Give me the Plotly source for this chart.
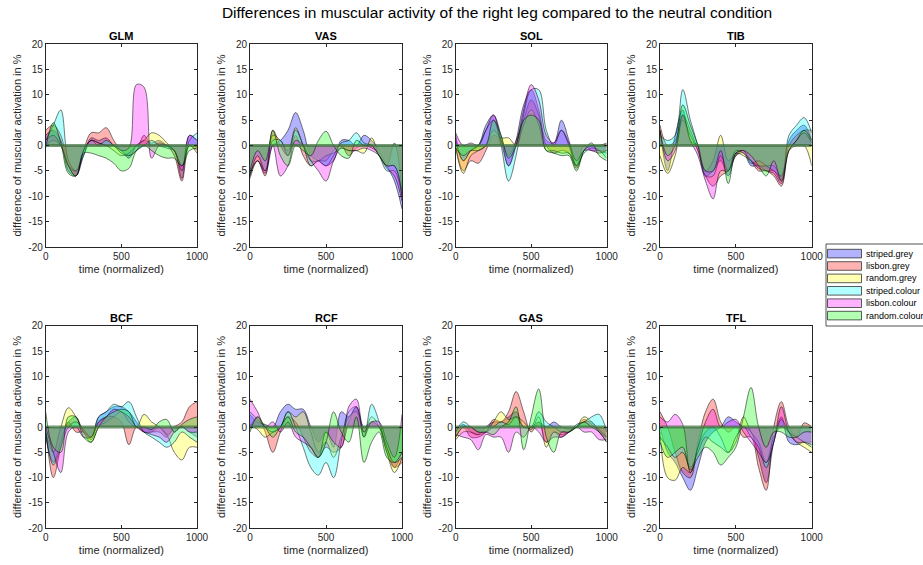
import plotly.graph_objects as go

x = list(range(0, 1001, 50))
series_names = ["striped.grey", "lisbon.grey", "random.grey", "striped.colour", "lisbon.colour", "random.colour"]
series_colors = ["rgba(0,0,255,0.3)", "rgba(255,0,0,0.3)", "rgba(255,255,0,0.3)",
                 "rgba(0,255,255,0.3)", "rgba(255,0,255,0.3)", "rgba(0,255,0,0.3)"]
muscles = ["GLM", "VAS", "SOL", "TIB", "BCF", "RCF", "GAS", "TFL"]

GLM = [
    [2, 3, 1, -5, -6, -2, 1.5, 1, 1.5, 0, -1, -2.5, 0, 1, 0.5, 1, 0, -1, -6.5, 2, 1],
    [3, 4, 2, -4, -6, -1, 2.5, 2.5, 3.5, 1, -1, -2, -1, 2, 0, 0.5, 0, -2, -7, 0, -1],
    [0, 1, 0, -4, -5, -1, 1, 0.5, 0, -1, -2, -1.5, 0, 1, 2.5, 2, 0.5, -1, -4, 0, -1.5],
    [1, 4, 7, -3, -5, -2, 1, 0, 1, 0, -1.5, -2, -1, 0, 1, 0, -0.5, -1, -4, 1, 2.5],
    [1, 2, 0, -4, -6, -1, 1, 0.5, 0, 0, -1, -0.5, 12, 11.5, -2.5, 0, 0, -1, -5, 2, 1],
    [-0.5, 4.5, 0.5, -5.5, -6, -1.5, -1.5, -2, -2.5, -3.5, -5, -4.5, -1, 0, -1, -2, -2.5, -2.5, -4, -1, -0.5],
]
VAS = [
    [-6, -2, -5, 0, 1, 3, 6.5, 3, -2, -3, -4, -3, 1, 1, 0, 2, 1, -1, -4, -7, -12.5],
    [-5.5, -3, -6, 3, 0, -2, 2, -2, -4, -3, -3, -1, 0, -2, -0.5, 0, -0.5, -1.5, -4, 0.5, -9],
    [-6.5, -3, -5, 2, 1, -1, 3.5, 0, -3, -3, -2, -1.5, -0.5, -1, -1, -1.5, 1.5, -2, -4, -4, -9],
    [-6, -2, -5, 1, 1, -2, 3, 0, -4, -3, -4, -2, 0.5, 1, 2.5, 0.5, 0, -2, -5, -5, -10],
    [-5.5, -3, -5.5, 0, -6, -4, 1, 0, -3, -5, -7, -3, -0.5, -1, -1, -0.5, -1, -2, -4.5, -6, -11],
    [-5, -1, -3, 3, -2, -4, 0, -1, -2, 1, 2.8, 0, -2, -2.5, 1, 0, 0, -2, -4, -4, -10],
]
SOL = [
    [2, -3, -1, 0, 4, 6, 2, -4, 1, 8, 11, 7, 1, 0.5, 5, 1, -4, 0, -1, -1, -1],
    [0, -5, -3, -3.5, -1, 2, 1, -2, 1, 5, 9, 6, 0, -1.5, -1, -1.5, -4.5, -1, 0, 0, 0.5],
    [-0.5, -5.5, -2, -1, 0, 3, 1.5, 1.5, 0, 4, 7, 4, -1, -1, -1.5, -1.5, -4, -1, 0, -1, -1.5],
    [1, -3, -1, 0, 3, 5, 0, -7, -2, 6, 11, 11, 3, 0, 3, 0, -4, -1.5, -0.5, -1, -2.5],
    [2.5, 0, 0.5, 0, 3, 6, 1, -4, 0, 7, 12, 9, 2, 0.5, 3, 0.5, -3, -1, -1, -1.5, -1],
    [-0.5, -2, -1, -1, 0, 5, 2, -2.5, 0, 5, 6, 5, -1, -1.5, -2, -2, -5, -1, 0.5, -2, -3],
]
TIB = [
    [3, -5, 2, 7, 1, 0, -6, -5, -3, -6, -2, -1.5, -4, -4, -5, -5, -7, 1, 3, 4, 1],
    [4, 0, 1, 6, 3, -1, -6, -8, -6, -5, -2, -1, -3, -5, -5, -6, -8, 0, 2, 3, 3],
    [-2, -5.5, -2, 5, 2, -1, -5, -3, 2, -3, -1.5, -2, -3, -4, -4, -4, -6, -1, 0, 0, -4],
    [2, 1, 2, 11, 5, 0, -6, -6, -2, -5, -1.5, -1, -3.5, -3, -4, -5, -6, 2, 4, 5.5, 2.5],
    [3, -3, -1, 6, 1, -2, -7, -10.5, -5, -5, -1, -1.5, -3, -4.5, -5, -5.5, -7.5, -1, 1, 2.5, 0.5],
    [3, -2, 0, 8, 4, 0, -5, -5, -1, -7.5, -1.5, -1, -2, -4, -6, -3, -7, -1, 1, 3, 1],
]
BCF = [
    [-2, -7, -3, 1, 2, -1, -2, 2, 3, 4, 4, 3, 1, -1, -1, 0, -1.5, -0.5, 0, -1, -2],
    [0, -10, -4, 1, -1, -1, -2.5, 1, 2, 2, 1, -3.5, 0, -1, -1, -1, -2, 0, 1, 4, 5],
    [-1, -5, 0, 3.8, 2, -1, -3, 0, 1, 2, 3, 1, 0, 2.5, 1, 0, -1.5, -5, -6.5, -4, -4],
    [-1, -7.5, -4, 0, 1, -0.5, -2, 2, 3, 4.5, 4, 5, 2, -1, -2, -3, -4, -3, -1, -2, -3],
    [0, -5, -9, -1, 0, -2, -2, 1, 2, 3.5, 3, 2, 0, -1, -1.5, -2, -3, -1, 0, -1, -1],
    [3, -4, -5, 2, 2, -2, -3, 0, 2, 3, 3.5, 3, 0, 0, -0.5, 1, 1.5, -1, 0.5, 1.5, 2],
]
RCF = [
    [2.5, 1, 0.5, 0, 3, 4.5, 3.5, 3.5, 0, -3, -1, -4, 3, 2, 4, 0, 1, 0, -4, -8, -5],
    [0, 2, -1, -5, -1, 2, 1, -2, -5, -6, -4, -5, -4, 1, 4, -2, 1, 0, -5, -8, -7],
    [0.5, -0.5, -2, -1, 0, 3, 2, 3, -1, -5, -3, -6, -2, 2, 3, -1, 2, 0, -5, -9, -6],
    [3, 1.5, 0, -1, 0, 3, 0, -4, -8, -9.5, -7, -10, -3, 3, 4, -2, 4.5, 1, -4, -7, -6],
    [5.5, 3, 0, 1, -1, 1, -2, -3, -4, -6, -1, -3, -4, 4, 5.5, -1, 1, 1, -3, -6, 2.5],
    [-1, 2, 0, -2, 0, 2, -1, -2, -4, -6, -3, 3, -1, -3, 2, -7, -3, -1, -6, -7, -5],
]
GAS = [
    [-1, 0.5, -1, -1.5, 0, 1, 1, 2, 3, 0, 0, 1, 0, 1, 0, -0.5, 0, 1, 1, -1, -2],
    [-2, 0, -2, -2, -1, 1.5, 1, 3, 7, 3, -1, 1, -3, -1, -2, -1, 0, 1.5, 0.5, -1, -3],
    [-2.5, -1, -1, -1.5, -1, 1, 3, 1.5, 2, 1, -0.5, 2, -4, -1, -1.5, -1, 0, 2, 1, -0.5, -2],
    [-1, 1, 0, -1, -1, 0, 1, 0.5, 2, 0, 0, 3, 1, 0, -1, -1, 0.5, 1, 2, 2.5, -1],
    [-1.5, -2, -2.5, -4.5, -1.5, -2, -2, -5, -1, -2, 0, -1, -3, -2, -2, -1, 0, -1, -1, -2.5, -2.5],
    [-2, 0, 0, -1, -1, -1.5, 0, 1, 4, -4.5, 2, 7.5, -2, -5, -1, -1, 0, 1, 0, -1, -3],
]
TFL = [
    [0, -5, -7, -10, -12.5, -8, -3, -1, 0, 2, 1, 0, -1, -6, -11, -3, 2, -3, -3.5, -3, -3],
    [3, 0, -5, -9, -10, -3, 3, 5.5, 1, -1, 0, -2, -2, -8, -12.5, 0, 5, 0, -2, 0.8, 0],
    [-1, -10, -10.5, -8, -9, -4, -1, 0, -2, -5, -3, 2, -1, -3, -7, -2, 0, -1, -3, -4, -5],
    [-2, -4, -6, -5, -8, -5, -2, -3, -4, -5, -2, 0, -2, -4, -8, -3, 1.5, -1, -2, -3, -4],
    [2, 1, 2.5, 0.5, -9, -4, 1, 3.5, 0, 1, 1.5, -1, -3, -5, -7, -3, 4, -1, -3, -3, -3.5],
    [-3, -6, -5, -4, -8.5, -6, -4, -5, -7.5, -6, -4, 2, 7.8, 0, -4, -1, -1, -2, -2, -1, -1],
]
data = [GLM, VAS, SOL, TIB, BCF, RCF, GAS, TFL]

yticks = list(range(-20, 21, 5))
ytick_text = [str(v) for v in yticks]
xticks = [0, 500, 1000]
xtick_text = ["0", "500", "1000"]

W, H = 923, 565
def px(v):
    return v / W
def py(v):
    return 1 - v / H

col_px = [(45.7, 197.0), (250.0, 402.0), (455.7, 606.7), (660.0, 811.7)]
row_px = [(44.0, 247.0), (325.7, 528.3)]

FONT = "Liberation Sans, Arial, sans-serif"
fig = go.Figure()
layout = dict(
    width=W, height=H, margin=dict(l=0, r=0, t=0, b=0),
    paper_bgcolor="white", plot_bgcolor="white",
    font=dict(family=FONT, size=10, color="#262626"),
    showlegend=False,
    title=dict(text="Differences in muscular activity of the right leg compared to the neutral condition",
               x=px(497), xanchor="center", y=py(13), yanchor="middle",
               font=dict(size=15.5, color="black", family=FONT)),
    annotations=[], shapes=[],
)

for k, (name, series) in enumerate(zip(muscles, data)):
    r, c = divmod(k, 4)
    idx = k + 1
    xa = "x" if idx == 1 else f"x{idx}"
    ya = "y" if idx == 1 else f"y{idx}"
    x0, x1 = col_px[c]
    yt, yb = row_px[r]
    for j, vals in enumerate(series):
        fig.add_trace(go.Scatter(
            x=x, y=vals, xaxis=xa, yaxis=ya, mode="lines",
            line=dict(color="rgba(0,0,0,0.65)", width=0.8, shape="spline", smoothing=1.0),
            fill="tozeroy", fillcolor=series_colors[j],
            name=series_names[j], legendgroup=series_names[j],
            showlegend=False, hoverinfo="skip"))
    fig.add_trace(go.Scatter(
        x=[x[0], x[-1]], y=[0, 0], xaxis=xa, yaxis=ya, mode="lines",
        line=dict(color="rgba(60,110,60,0.7)", width=3),
        showlegend=False, hoverinfo="skip"))
    axcommon = dict(showline=True, linecolor="#262626", linewidth=0.8, mirror="ticks",
                    ticks="inside", ticklen=3, tickcolor="#262626", tickwidth=0.8,
                    showgrid=False, zeroline=False, automargin=False,
                    tickfont=dict(size=10, color="#262626", family=FONT))
    layout["xaxis" if idx == 1 else f"xaxis{idx}"] = dict(
        domain=[px(x0), px(x1)], range=[0, 1000], anchor=ya,
        tickvals=xticks, ticktext=xtick_text,
        title=dict(text="time (normalized)", font=dict(size=11, color="#262626"), standoff=4),
        **axcommon)
    layout["yaxis" if idx == 1 else f"yaxis{idx}"] = dict(
        domain=[py(yb), py(yt)], range=[-20, 20], anchor=xa,
        tickvals=yticks, ticktext=ytick_text,
        title=dict(text="difference of muscular activation in %", font=dict(size=11, color="#262626"), standoff=4),
        **axcommon)
    layout["annotations"].append(dict(
        text=f"<b>{name}</b>", x=px((x0 + x1) / 2), y=py(yt - 8), xref="paper", yref="paper",
        xanchor="center", yanchor="middle", showarrow=False,
        font=dict(size=11, color="black", family=FONT)))

# legend box (drawn manually to match compact entry spacing)
layout["shapes"].append(dict(type="rect", xref="paper", yref="paper",
                             x0=px(826), x1=px(940), y0=py(326), y1=py(244),
                             line=dict(color="#262626", width=0.8), fillcolor="white", layer="above"))
for j, nm in enumerate(series_names):
    top = 249.3 + 12.4 * j
    layout["shapes"].append(dict(type="rect", xref="paper", yref="paper",
                                 x0=px(827.5), x1=px(861.5), y0=py(top + 8.6), y1=py(top),
                                 line=dict(color="#333333", width=0.8), fillcolor=series_colors[j],
                                 layer="above"))
    layout["annotations"].append(dict(
        text=nm, x=px(863.5), y=py(top + 4.3), xref="paper", yref="paper",
        xanchor="left", yanchor="middle", showarrow=False,
        font=dict(size=9, color="black", family=FONT)))

fig.update_layout(**layout)
fig.write_html("out.html", config={"displayModeBar": False},
               post_script="document.body.style.margin='0px';")
